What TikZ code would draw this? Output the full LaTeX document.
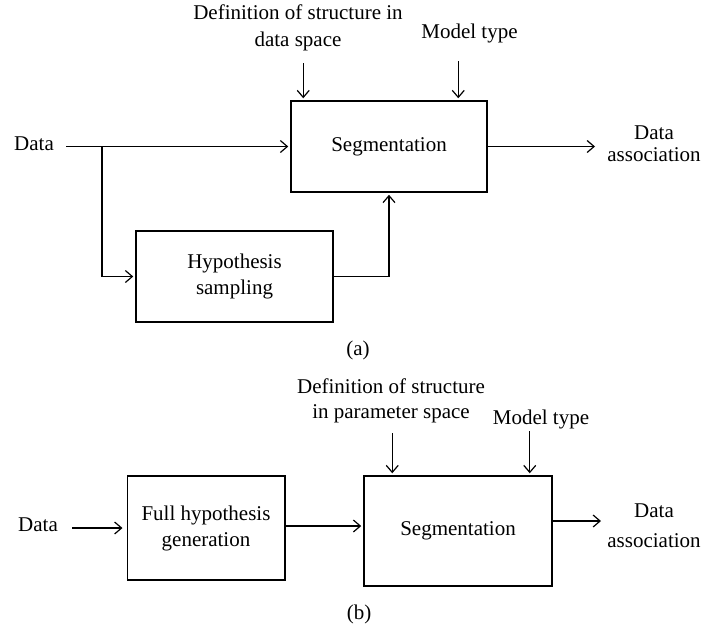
\documentclass[tikz,border=0pt]{standalone}
\usepackage{fontspec}
\setmainfont{Liberation Serif}
\usetikzlibrary{arrows.meta}

\begin{document}
\begin{tikzpicture}[x=1pt,y=-1pt,>={Straight Barb[length=7pt,width=12pt]},
    line width=1.2pt,shorten >=2pt,
    font=\fontsize{21}{26}\selectfont,
    block/.style={draw,line width=1.5pt,align=center},
    lbl/.style={align=center,inner sep=2pt}]
    \useasboundingbox (0,0) rectangle (701,625);

    % (a)
    \node[block,minimum width=196pt,minimum height=91pt] (segA) at (389,146.5) {Segmentation};
    \node[block,minimum width=197pt,minimum height=91pt] (hyp) at (234.5,276.5) {Hypothesis\\sampling};
    \node[lbl] (dataA) at (34,144) {Data};
    \node[lbl,font=\fontsize{21}{22}\selectfont] (assocA) at (654,144) {Data\\association};
    \node[lbl,font=\fontsize{21}{27}\selectfont] (defA) at (298,28) {Definition of structure in\\data space};
    \node[lbl] (modelA) at (469.5,33) {Model type};
    \node[lbl] (capA) at (358,350) {(a)};

    \coordinate (split) at (102,146.5);
    \coordinate (inA1) at ([xshift=13pt]segA.north west);
    \coordinate (inA2) at ([xshift=-29.5pt]segA.north east);
    \coordinate (outA) at (597,146.5);

    \draw[->,shorten <=10pt] (dataA.east |- segA.west) -- (segA.west);
    \draw[->] (split) |- (hyp.west);
    \draw[->] (hyp.east) -| (segA.south);
    \draw[->] (segA.east) -- (outA);
    \draw[->] (inA1 |- 0,63) -- (inA1);
    \draw[->] (inA2 |- 0,61) -- (inA2);

    % (b)
    \node[block,minimum width=157.5pt,minimum height=104pt] (full) at (206,528) {Full hypothesis\\generation};
    \node[block,minimum width=188pt,minimum height=110pt] (segB) at (458,531) {Segmentation};
    \node[lbl] (dataB) at (38,525) {Data};
    \node[lbl,font=\fontsize{21}{30}\selectfont] (assocB) at (654,526) {Data\\association};
    \node[lbl,font=\fontsize{21}{25}\selectfont] (defB) at (391,401) {Definition of structure\\in parameter space};
    \node[lbl] (modelB) at (541,419) {Model type};
    \node[lbl] (capB) at (359,614) {(b)};

    \coordinate (inB1) at ([xshift=29pt]segB.north west);
    \coordinate (inB2) at ([xshift=-23pt]segB.north east);
    \coordinate (outB) at (603,521);

    \draw[->,shorten <=12pt,shorten >=4pt] (dataB.east |- full.west) -- (full.west);
    \draw[->] (full.east |- 0,526) -- (segB.west |- 0,526);
    \draw[->] ([yshift=10pt]segB.east) -- (outB);
    \draw[->] (inB1 |- 0,433) -- (inB1);
    \draw[->] (inB2 |- 0,431) -- (inB2);
\end{tikzpicture}
\end{document}
